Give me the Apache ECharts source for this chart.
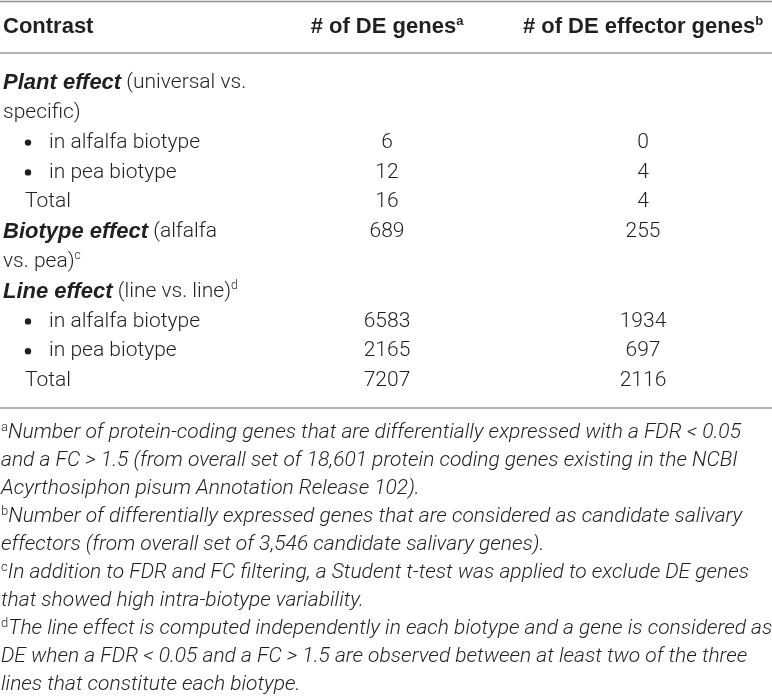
<!DOCTYPE html>
<html>
<head>
<meta charset="utf-8">
<title>DE genes per contrast</title>
<script src="https://cdn.jsdelivr.net/npm/echarts@6/dist/echarts.min.js"></script>
<style>
  html, body { margin: 0; padding: 0; background: #fff; }
  #table-chart { width: 772px; height: 696px; }
</style>
</head>
<body>
<div id="table-chart"></div>
<script>
// table content
const headerLabels = ["Contrast", "# of DE genes", "# of DE effector genes"];
const headerMarks = ["", "a", "b"];

const contrastLabels = [
  "{bi|Plant effect} (universal vs.",
  "specific)",
  "in alfalfa biotype",
  "in pea biotype",
  "Total",
  "{bi|Biotype effect} (alfalfa",
  "vs. pea){sup|c}",
  "{bi|Line effect} (line vs. line){sup|d}",
  "in alfalfa biotype",
  "in pea biotype",
  "Total",
];
// group = bold heading, cont = wrapped line, item = bullet, total = indented
const contrastKinds = ["group", "cont", "item", "item", "total", "group", "cont", "group", "item", "item", "total"];

const deGenes = [null, null, 6, 12, 16, 689, null, null, 6583, 2165, 7207];
const deEffectorGenes = [null, null, 0, 4, 4, 255, null, null, 1934, 697, 2116];

const footnoteMarks = ["a", "b", "c", "d"];
const footnoteLines = [
  [
    "Number of protein-coding genes that are differentially expressed with a FDR < 0.05",
    "and a FC > 1.5 (from overall set of 18,601 protein coding genes existing in the NCBI",
    "Acyrthosiphon pisum Annotation Release 102).",
  ],
  [
    "Number of differentially expressed genes that are considered as candidate salivary",
    "effectors (from overall set of 3,546 candidate salivary genes).",
  ],
  [
    "In addition to FDR and FC filtering, a Student t-test was applied to exclude DE genes",
    "that showed high intra-biotype variability.",
  ],
  [
    "The line effect is computed independently in each biotype and a gene is considered as",
    "DE when a FDR < 0.05 and a FC > 1.5 are observed between at least two of the three",
    "lines that constitute each biotype.",
  ],
];

// layout (pixels in the 772 x 696 frame)
const W = 772;
const H = 696;
const COL_X = [3, 387, 643];
const HEADER_Y = 27;
const ROW_Y0 = 83;
const ROW_STEP = 29.8;
const NOTE_Y0 = 433;
const NOTE_STEP = 28;
const RULES = [
  { y: 1.5, color: "#8f8f8f", width: 1.6 },
  { y: 53, color: "#b5b5b5", width: 2 },
  { y: 408, color: "#b5b5b5", width: 2 },
];

const TEXT_COLOR = "#231f20";
const BODY_FONT = "Roboto, 'Liberation Sans', sans-serif";
const HEAD_FONT = "'Liberation Sans', Arial, sans-serif";

const richStyles = {
  bi: { fontFamily: HEAD_FONT, fontWeight: 700, fontStyle: "italic", fontSize: 22, fill: TEXT_COLOR, lineHeight: 24 },
  sup: { fontFamily: BODY_FONT, fontWeight: 300, fontSize: 12, fill: TEXT_COLOR, verticalAlign: "top", lineHeight: 12 },
  hsup: { fontFamily: HEAD_FONT, fontWeight: 700, fontSize: 13, fill: TEXT_COLOR, verticalAlign: "top", lineHeight: 12 },
  isup: { fontFamily: BODY_FONT, fontWeight: 300, fontSize: 13, fill: TEXT_COLOR, verticalAlign: "top", lineHeight: 12 },
};

function bodyText(x, y, text, align, extra) {
  return {
    type: "text",
    x,
    y,
    style: Object.assign(
      {
        text,
        fill: TEXT_COLOR,
        fontFamily: BODY_FONT,
        fontWeight: 300,
        fontSize: 21,
        lineHeight: 24,
        align,
        verticalAlign: "middle",
        rich: richStyles,
      },
      extra || {}
    ),
  };
}

// table cells: [column, row]
const cellData = [];
contrastLabels.forEach((_, r) => {
  cellData.push([0, r]);
  if (deGenes[r] !== null) cellData.push([1, r]);
  if (deEffectorGenes[r] !== null) cellData.push([2, r]);
});

// footnote lines: [note, line index in note, running line number]
const noteData = [];
let noteLineNo = 0;
footnoteLines.forEach((lines, n) => {
  lines.forEach((_, l) => noteData.push([n, l, noteLineNo++]));
});

function renderCell(params, api) {
  const col = api.value(0);
  const row = api.value(1);
  const y = ROW_Y0 + row * ROW_STEP;
  if (col === 0) {
    const kind = contrastKinds[row];
    const text = contrastLabels[row];
    if (kind === "item") {
      const pb = api.coord([COL_X[0] + 22, y]);
      const pt = api.coord([COL_X[0] + 46, y]);
      return {
        type: "group",
        children: [
          { type: "circle", shape: { cx: pb[0] + 3, cy: pb[1], r: 3.2 }, style: { fill: TEXT_COLOR } },
          bodyText(pt[0], pt[1], text, "left"),
        ],
      };
    }
    const indent = kind === "total" ? 22 : 0;
    const p = api.coord([COL_X[0] + indent, y]);
    return bodyText(p[0], p[1], text, "left");
  }
  const values = col === 1 ? deGenes : deEffectorGenes;
  const p = api.coord([COL_X[col], y]);
  return bodyText(p[0], p[1], String(values[row]), "center");
}

function renderHeader(params, api) {
  const col = api.value(0);
  const p = api.coord([COL_X[col], HEADER_Y]);
  const mark = headerMarks[col] ? "{hsup|" + headerMarks[col] + "}" : "";
  return bodyText(p[0], p[1], headerLabels[col] + mark, col === 0 ? "left" : "center", {
    fontFamily: HEAD_FONT,
    fontWeight: 700,
    fontSize: 22,
  });
}

function renderNote(params, api) {
  const n = api.value(0);
  const l = api.value(1);
  const lineNo = api.value(2);
  const p = api.coord([1, NOTE_Y0 + lineNo * NOTE_STEP]);
  const text = (l === 0 ? "{isup|" + footnoteMarks[n] + "}" : "") + footnoteLines[n][l];
  return bodyText(p[0], p[1], text, "left", { fontStyle: "italic", fontSize: 21 });
}

function renderRule(params, api) {
  const rule = RULES[api.value(0)];
  const a = api.coord([0, rule.y]);
  const b = api.coord([W, rule.y]);
  return {
    type: "line",
    shape: { x1: a[0], y1: a[1], x2: b[0], y2: b[1] },
    style: { stroke: rule.color, lineWidth: rule.width },
  };
}

const chart = echarts.init(document.getElementById("table-chart"), null, { renderer: "canvas" });

chart.setOption({
  backgroundColor: "#ffffff",
  animation: false,
  grid: { left: 0, right: 0, top: 0, bottom: 0 },
  xAxis: { type: "value", min: 0, max: W, show: false },
  yAxis: { type: "value", min: 0, max: H, inverse: true, show: false },
  series: [
    { type: "custom", name: "rules", silent: true, clip: false, renderItem: renderRule, data: RULES.map((_, i) => [i]) },
    { type: "custom", name: "header", silent: true, clip: false, renderItem: renderHeader, data: headerLabels.map((_, i) => [i]) },
    { type: "custom", name: "cells", silent: true, clip: false, renderItem: renderCell, data: cellData },
    { type: "custom", name: "notes", silent: true, clip: false, renderItem: renderNote, data: noteData },
  ],
});
</script>
</body>
</html>
